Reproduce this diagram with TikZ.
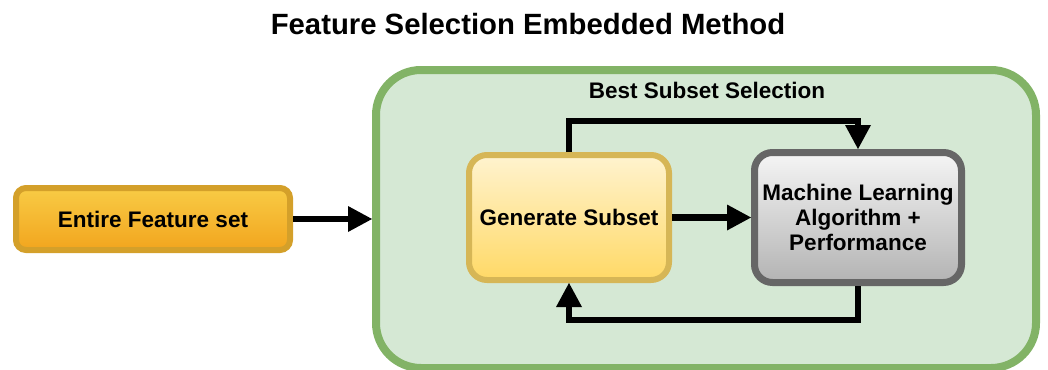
\documentclass[tikz,border=0pt]{standalone}
\usepackage{fontspec}
\setmainfont{Liberation Sans}
\usetikzlibrary{arrows.meta}

\definecolor{grpfill}{HTML}{D5E8D4}
\definecolor{grpline}{HTML}{82B366}
\definecolor{inTop}{HTML}{F8CB45}
\definecolor{inBot}{HTML}{F2A51E}
\definecolor{inLine}{HTML}{D4A02A}
\definecolor{genTop}{HTML}{FFF3CF}
\definecolor{genBot}{HTML}{FFD966}
\definecolor{genLine}{HTML}{D6B656}
\definecolor{mlTop}{HTML}{F5F5F5}
\definecolor{mlBot}{HTML}{B3B3B3}
\definecolor{mlLine}{HTML}{666666}

\begin{document}
\begin{tikzpicture}[x=1pt,y=-1pt,
  lbl/.style={font=\fontsize{22.5}{25}\selectfont\bfseries, text=black, align=center},
  boxbase/.style={lbl, draw, inner sep=0pt},
  flow/.style={line width=6.5pt, -{Triangle[length=24pt,width=26pt,line width=0pt]}}
]
\useasboundingbox (0,0) rectangle (1048,369);

% title
\node[font=\fontsize{29.3}{33}\selectfont\bfseries] (title) at (528,24) {Feature Selection Embedded Method};

% enclosing group
\node[draw=grpline, fill=grpfill, line width=8pt, rounded corners=45pt,
      minimum width=660pt, minimum height=298pt, inner sep=0pt] (grp) at (706,219) {};
\node[lbl] (grplbl) at (707,90) {Best Subset Selection};

% boxes
\node[boxbase, draw=inLine, line width=6pt, rounded corners=10pt,
      top color=inTop, bottom color=inBot,
      minimum width=274pt, minimum height=62pt] (entire) at (153,219) {Entire Feature set};
\node[boxbase, draw=genLine, line width=6pt, rounded corners=18pt,
      top color=genTop, bottom color=genBot,
      minimum width=200pt, minimum height=125pt] (gen) at (569,217.5) {Generate Subset};
\node[boxbase, draw=mlLine, line width=7pt, rounded corners=18pt,
      top color=mlTop, bottom color=mlBot,
      minimum width=207pt, minimum height=130pt] (ml) at (858,217.5)
      {Machine Learning\\Algorithm +\\Performance};

% loop levels
\coordinate (upper) at (700,121);
\coordinate (lower) at (700,320);

% connectors
\draw[flow] (entire.east) -- (entire.east -| grp.west);
\draw[flow] (gen.east) -- (gen.east -| ml.west);
\draw[flow] (gen.north) |- (upper) -| (ml.north);
\draw[flow] (ml.south) |- (lower) -| (gen.south);
\end{tikzpicture}
\end{document}
